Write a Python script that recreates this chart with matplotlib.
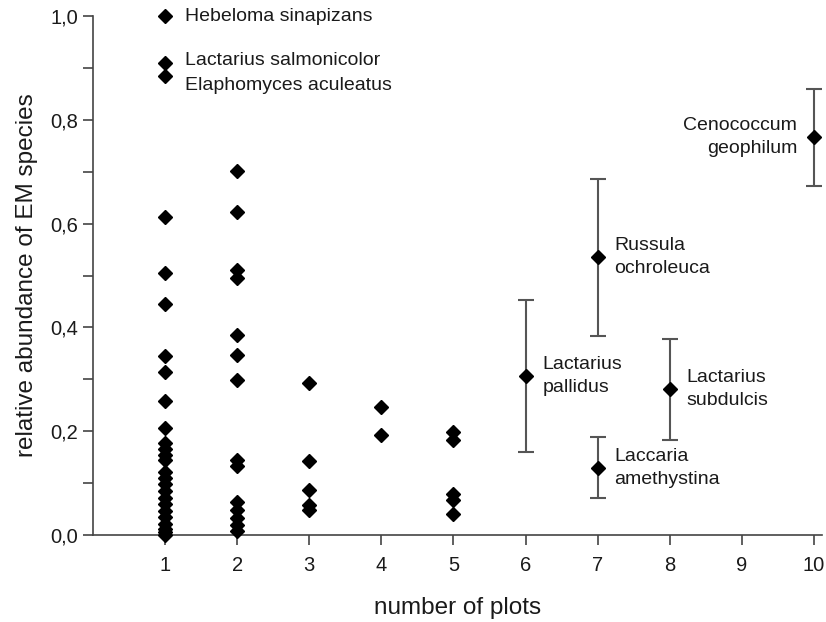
"""Relative abundance of EM species vs number of plots."""

import matplotlib
matplotlib.use("Agg")
import matplotlib.pyplot as plt
from matplotlib.ticker import FuncFormatter, MultipleLocator

plt.rcParams["font.family"] = ["Liberation Sans", "DejaVu Sans"]

# species found in only a few plots (single observations)
abund_1plot = [1.0, 0.91, 0.885, 0.613, 0.505, 0.445, 0.345, 0.315, 0.258,
               0.206, 0.178, 0.166, 0.155, 0.145, 0.122, 0.110, 0.098, 0.085,
               0.072, 0.060, 0.047, 0.035, 0.022, 0.012, 0.005, 0.0]
abund_2plots = [0.702, 0.623, 0.510, 0.496, 0.385, 0.347, 0.298, 0.145,
                0.133, 0.064, 0.048, 0.033, 0.019, 0.008]
abund_3plots = [0.293, 0.143, 0.087, 0.058, 0.048]
abund_4plots = [0.247, 0.193]
abund_5plots = [0.199, 0.183, 0.079, 0.067, 0.040]

# labelled single points
point_labels = ["Hebeloma sinapizans", "Lactarius salmonicolor", "Elaphomyces aculeatus"]
point_y = [1.0, 0.91, 0.885]
point_dy = [0, 2, -7]  # label offsets in points

# species with mean and range
err_species = ["Lactarius\npallidus", "Russula\nochroleuca", "Laccaria\namethystina",
               "Lactarius\nsubdulcis", "Cenococcum\ngeophilum"]
err_x = [6, 7, 7, 8, 10]
err_mean = [0.306, 0.536, 0.129, 0.281, 0.767]
err_low = [0.160, 0.383, 0.071, 0.183, 0.673]
err_high = [0.453, 0.686, 0.189, 0.378, 0.859]

TEXT = "#1a1a1a"
AXIS = "#444444"

fig = plt.figure(figsize=(8.26, 6.22), dpi=100)
ax = fig.add_axes([0.1126, 0.14, 0.8824, 0.834])

columns = [abund_1plot, abund_2plots, abund_3plots, abund_4plots, abund_5plots]
for i, vals in enumerate(columns, start=1):
    ax.plot([i] * len(vals), vals, linestyle="none", marker="D",
            markersize=7.5, color="black", zorder=3, clip_on=False)

yerr = [[m - lo for m, lo in zip(err_mean, err_low)],
        [hi - m for m, hi in zip(err_mean, err_high)]]
ax.errorbar(err_x, err_mean, yerr=yerr, fmt="D", color="black",
            markersize=7.5, ecolor="#555555", elinewidth=1.5, capsize=5.5,
            capthick=1.5, zorder=3, clip_on=False)

for lab, y, dy in zip(point_labels, point_y, point_dy):
    ax.annotate(lab, xy=(1, y), xytext=(14, dy), textcoords="offset points",
                ha="left", va="center", fontsize=14, color=TEXT)

for lab, x, y in zip(err_species, err_x, err_mean):
    if x == 10:
        ax.annotate(lab, xy=(x, y), xytext=(-12, 0), textcoords="offset points",
                    ha="right", va="center", multialignment="right",
                    fontsize=14, color=TEXT, linespacing=1.5)
    else:
        ax.annotate(lab, xy=(x, y), xytext=(12, 0), textcoords="offset points",
                    ha="left", va="center", fontsize=14, color=TEXT,
                    linespacing=1.5)

ax.set_xlim(0, 10.11)
ax.set_ylim(0, 1.0)
ax.set_xticks(range(1, 11))
ax.yaxis.set_major_locator(MultipleLocator(0.2))
ax.yaxis.set_minor_locator(MultipleLocator(0.1))
ax.yaxis.set_major_formatter(FuncFormatter(lambda v, _: f"{v:.1f}".replace(".", ",")))

for side in ["top", "right"]:
    ax.spines[side].set_visible(False)
for side in ["left", "bottom"]:
    ax.spines[side].set_color(AXIS)
    ax.spines[side].set_linewidth(1.2)

ax.tick_params(axis="both", which="both", direction="out", color=AXIS,
               width=1.2, labelsize=14.5, labelcolor=TEXT)
ax.tick_params(axis="both", which="major", length=7)
ax.tick_params(axis="y", which="minor", length=7)
ax.tick_params(axis="x", pad=8)

ax.set_xlabel("number of plots", fontsize=17.5, color=TEXT, labelpad=16)
ax.set_ylabel("relative abundance of EM species", fontsize=17.5, color=TEXT,
              labelpad=9)

fig.savefig("out.png", dpi=100)
